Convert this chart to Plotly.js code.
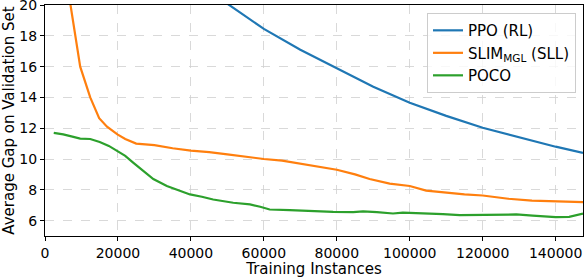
<!DOCTYPE html>
<html>
<head>
<meta charset="utf-8">
<script src="https://cdn.plot.ly/plotly-3.0.1.min.js"></script>
<style>html,body{margin:0;padding:0;background:#fff;}#chart{width:586px;height:278px;}</style>
</head>
<body>
<div id="chart"></div>
<script>
const ppoX = [45000, 50500, 60000, 70000, 80000, 90000, 100000, 110000, 120000, 130000, 140000, 147500];
const ppoY = [20.9, 20, 18.45, 17.1, 15.9, 14.7, 13.65, 12.8, 12.03, 11.4, 10.8, 10.4];

const slimX = [5000, 7000, 9650, 12400, 14850, 17000, 19850, 22000, 25000, 30000, 35000, 40000, 45000, 50000, 55000, 60000, 65000, 70000, 75000, 80000, 85000, 89000, 94500, 100000, 104500, 110000, 115000, 120000, 127000, 133500, 140000, 147500];
const slimY = [23, 20, 16, 14, 12.65, 12.1, 11.6, 11.3, 11.0, 10.9, 10.7, 10.55, 10.45, 10.3, 10.15, 10.0, 9.9, 9.7, 9.5, 9.3, 9.0, 8.7, 8.4, 8.25, 7.95, 7.8, 7.7, 7.63, 7.42, 7.3, 7.24, 7.2];

const pocoX = [2400, 5000, 7500, 9650, 12400, 15000, 17500, 19850, 22000, 24250, 27000, 29700, 33400, 36500, 39750, 43000, 46100, 51600, 56200, 59000, 61600, 67100, 70000, 75000, 79000, 84500, 87200, 91000, 95400, 98100, 104500, 109100, 113700, 118200, 122800, 129200, 133700, 140000, 143700, 147500];
const pocoY = [11.7, 11.6, 11.45, 11.32, 11.3, 11.1, 10.85, 10.5, 10.2, 9.75, 9.25, 8.7, 8.25, 8.0, 7.7, 7.55, 7.37, 7.16, 7.05, 6.9, 6.72, 6.68, 6.65, 6.62, 6.57, 6.55, 6.6, 6.55, 6.46, 6.52, 6.49, 6.42, 6.35, 6.37, 6.35, 6.4, 6.32, 6.22, 6.24, 6.45];

const xTicks = [0, 20000, 40000, 60000, 80000, 100000, 120000, 140000];
const yTicks = [6, 8, 10, 12, 14, 16, 18, 20];

const seriesNames = ["PPO (RL)", "SLIM<sub>MGL</sub> (SLL)", "POCO"];

const tickFont = {family: "DejaVu Sans, sans-serif", size: 14, color: "#000"};
const titleFont = {family: "DejaVu Sans, sans-serif", size: 15, color: "#000"};

const traces = [
  {x: ppoX, y: ppoY, name: seriesNames[0], mode: "lines", line: {color: "#1f77b4", width: 2.2}},
  {x: slimX, y: slimY, name: seriesNames[1], mode: "lines", line: {color: "#ff7f0e", width: 2.2}},
  {x: pocoX, y: pocoY, name: seriesNames[2], mode: "lines", line: {color: "#2ca02c", width: 2.2}}
];

const layout = {
  width: 586, height: 278,
  margin: {l: 45, r: 3, t: 5, b: 42},
  paper_bgcolor: "#fff", plot_bgcolor: "#fff",
  font: tickFont,
  showlegend: true,
  legend: {
    x: 0.987, y: 0.965, xanchor: "right", yanchor: "top",
    bgcolor: "rgba(255,255,255,0.8)", bordercolor: "#cccccc", borderwidth: 1,
    font: titleFont,
    itemwidth: 30, tracegroupgap: 0
  },
  xaxis: {
    range: [0, 147500], tickvals: xTicks, ticktext: xTicks.map(String),
    tickfont: tickFont, ticklabeloverflow: "allow",
    showline: true, linecolor: "#000", linewidth: 1, mirror: true,
    ticks: "outside", ticklen: 4, tickcolor: "#000",
    showgrid: true, gridcolor: "#cfcfcf", gridwidth: 0.8, griddash: "dash",
    zeroline: false,
    title: {text: "Training Instances", font: titleFont, standoff: 1}
  },
  yaxis: {
    range: [5, 20.002], tickvals: yTicks, ticktext: yTicks.map(String),
    tickfont: tickFont, ticklabeloverflow: "allow",
    showline: true, linecolor: "#000", linewidth: 1, mirror: true,
    ticks: "outside", ticklen: 4, tickcolor: "#000",
    showgrid: true, gridcolor: "#cfcfcf", gridwidth: 0.8, griddash: "dash",
    zeroline: false,
    title: {text: "Average Gap on Validation Set", font: titleFont, standoff: 2}
  }
};

Plotly.newPlot("chart", traces, layout, {displayModeBar: false, staticPlot: true});
</script>
</body>
</html>
